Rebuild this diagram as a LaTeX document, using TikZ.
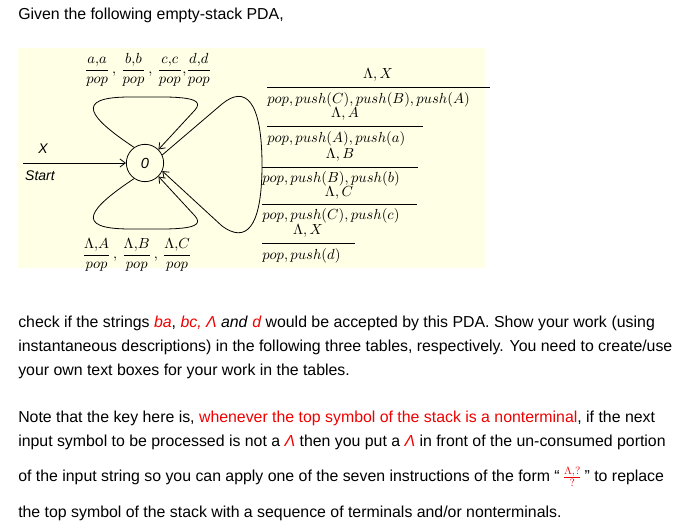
\documentclass[tikz,border=0pt]{standalone}
\usepackage{fontspec}
\setmainfont{Liberation Sans}
\usetikzlibrary{arrows.meta}
\definecolor{bg}{RGB}{255,255,230}
\definecolor{rd}{RGB}{240,0,0}
\begin{document}
\begin{tikzpicture}[x=0.75pt,y=-0.75pt,
  body/.style={anchor=west,inner sep=0pt,font=\fontsize{11.9}{13}\selectfont},
  mth/.style={inner sep=0pt,font=\fontsize{11.4}{12}\selectfont},
  edge/.style={semithick,-{Straight Barb[length=4pt,width=6pt]}},
  fl/.style={line width=0.6pt}]
\useasboundingbox (0,0) rectangle (679,530);
\fill[bg] (18,48) rectangle (485,268);
\node[body] (t0) at (18,15) {Given the following empty-stack PDA,};
% state
\node[draw,semithick,circle,minimum size=28pt,inner sep=0pt,font=\itshape\fontsize{11}{12}\selectfont] (c) at (145,163) {0};
\coordinate (s) at (23,163);
\draw[edge] (s) -- (c);
\node[body,font=\itshape\fontsize{10.5}{12}\selectfont,anchor=center] (lx) at (43,149) {X};
\node[body,font=\itshape\fontsize{10.5}{12}\selectfont,anchor=center] (ls) at (40,176) {Start};
% loops
\draw[edge] (c.125) .. controls (90,118) and (72,97) .. (130,97) .. controls (170,97) and (208,95) .. (195,110) -- (c.45);
\draw[edge] (c.235) .. controls (90,208) and (72,229) .. (130,229) .. controls (170,229) and (208,231) .. (195,216) -- (c.-45);
\draw[edge] (c.25) -- (222,104) .. controls (245,85) and (262,100) .. (262,165) .. controls (262,230) and (245,243) .. (222,226) -- (c.-25);
% loop labels
\node[mth] (tl) at (148,70) {$\displaystyle\frac{a{,}a}{pop}\,,\,\frac{b{,}b}{pop}\,,\,\frac{c{,}c}{pop}{,}\frac{d{,}d}{pop}$};
\node[mth] (bl) at (137,255) {$\displaystyle\frac{\Lambda{,}A}{pop}\,,\,\frac{\Lambda{,}B}{pop}\,,\,\frac{\Lambda{,}C}{pop}$};
% right labels
\node[mth] (n1) at (378,75) {$\Lambda, X$};
\draw[fl] (267,87) -- (490,87);
\node[mth,anchor=west] (d1) at (267,100) {$pop, push(C), push(B), push(A)$};
\node[mth] (n2) at (345,114) {$\Lambda, A$};
\draw[fl] (267,126) -- (423,126);
\node[mth,anchor=west] (d2) at (267,139) {$pop, push(A), push(a)$};
\node[mth] (n3) at (340,155) {$\Lambda, B$};
\draw[fl] (262,167) -- (418,167);
\node[mth,anchor=west] (d3) at (262,179) {$pop, push(B), push(b)$};
\node[mth] (n4) at (339,193) {$\Lambda, C$};
\draw[fl] (262,204) -- (417,204);
\node[mth,anchor=west] (d4) at (262,216) {$pop, push(C), push(c)$};
\node[mth] (n5) at (308,231) {$\Lambda, X$};
\draw[fl] (262,243) -- (355,243);
\node[mth,anchor=west] (d5) at (262,256) {$pop, push(d)$};
% paragraphs
\node[body] (p1) at (18,323) {check if the strings \textcolor{rd}{\itshape ba}, \textcolor{rd}{\itshape bc, Λ} \textit{and} \textcolor{rd}{\itshape d} would be accepted by this PDA. Show your work\hspace{0.3em}(using};
\node[body] (p2) at (18,347) {instantaneous descriptions) in the following three tables, respectively. You need to create/use};
\node[body] (p3) at (18,371) {your own text boxes for your work in the tables.};
\node[body] (p4) at (18,418) {Note that the key here is, \textcolor{rd}{whenever the top symbol of the stack is a nonterminal}, if the next};
\node[body] (p5) at (18,442) {input symbol to be processed is not a \textcolor{rd}{\itshape Λ} then you put a \textcolor{rd}{\itshape Λ} in front of the un-consumed portion};
\node[body] (p6) at (18,477) {of the input string so you can apply one of the seven instructions of the form ``\,\textcolor{rd}{$\frac{\Lambda,?}{?}$}\,'' to replace};
\node[body] (p7) at (18,513) {the top symbol of the stack with a sequence of terminals and/or nonterminals.};
\end{tikzpicture}
\end{document}
